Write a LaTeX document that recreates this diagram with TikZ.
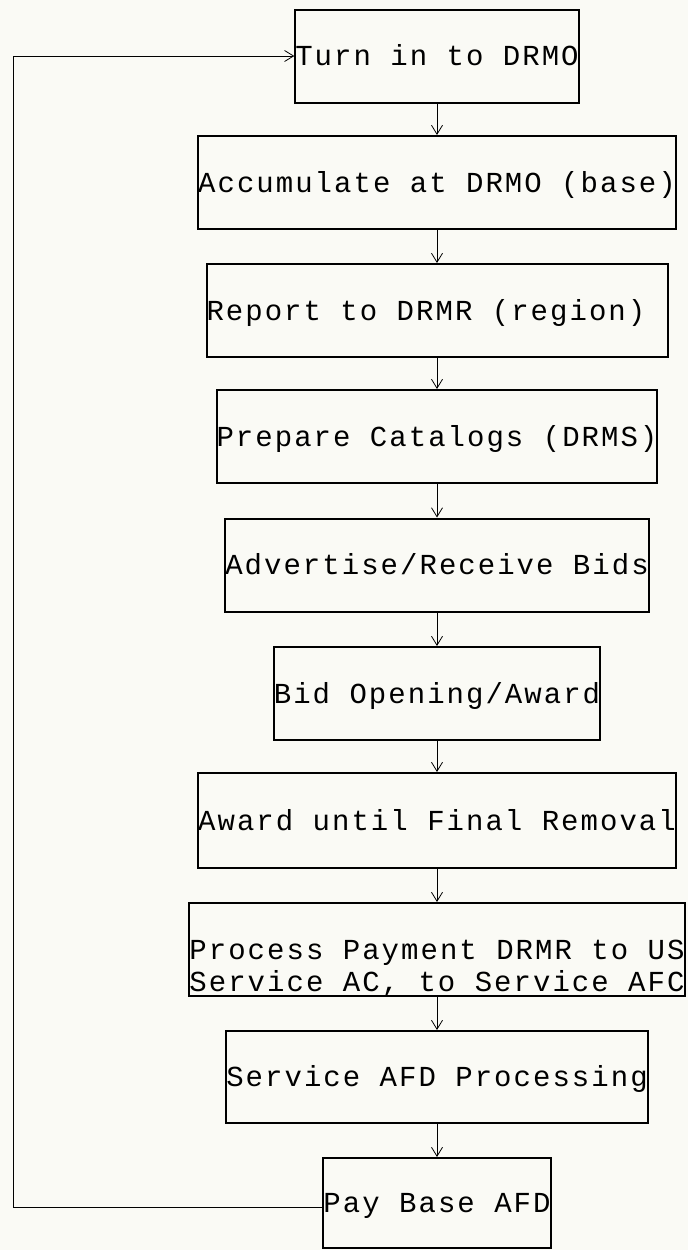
\documentclass[tikz,border=0pt]{standalone}
\usepackage{fontspec}
\setmainfont[LetterSpace=7]{Liberation Mono}
\usetikzlibrary{arrows.meta}
\definecolor{papier}{RGB}{250,250,245}
\tikzstyle{bloc} = [rectangle, draw=black, line width=2pt, inner sep=0pt, minimum height=93pt, text height=19pt, text depth=0pt, font=\fontsize{29}{32}\selectfont]
\tikzstyle{fleche} = [->, line width=0.8pt]

\begin{document}
\begin{tikzpicture}[x=1pt, y=-1pt, >={Straight Barb[length=9pt,width=11pt]}]
    \fill[papier] (0,0) rectangle (688,1250);
    \useasboundingbox (0,0) rectangle (688,1250);

    \node (turnin) [bloc] at (437,56) {Turn in to DRMO};
    \node (accumuler) [bloc] at (437,182.5) {Accumulate at DRMO (base)};
    \node (rapport) [bloc] at (437,310.5) {\makebox[461pt][l]{Report to DRMR (region)}};
    \node (catalogues) [bloc] at (437,436.5) {Prepare Catalogs (DRMS)};
    \node (annonce) [bloc] at (437,565) {Advertise/Receive Bids};
    \node (ouverture) [bloc] at (437,693.5) {Bid Opening/Award};
    \node (enlevement) [bloc, minimum height=95pt] at (437,820.5) {Award until Final Removal};
    \node (paiement) [bloc] at (437,949.5) {\begin{tabular}[t]{@{}c@{}}Process Payment DRMR to US\\
        Service AC, to Service AFC\end{tabular}};
    \node (traitement) [bloc, minimum height=92pt] at (437,1077) {Service AFD Processing};
    \node (paybase) [bloc, minimum height=90pt] at (437,1203) {Pay Base AFD};

    \draw[fleche] (turnin) -- (accumuler);
    \draw[fleche] (accumuler) -- (rapport);
    \draw[fleche] (rapport) -- (catalogues);
    \draw[fleche] (catalogues) -- (annonce);
    \draw[fleche] (annonce) -- (ouverture);
    \draw[fleche] (ouverture) -- (enlevement);
    \draw[fleche] (enlevement) -- (paiement);
    \draw[fleche] (paiement) -- (traitement);
    \draw[fleche] (traitement) -- (paybase);

    % retour vers le debut
    \coordinate (retour) at (13,1207);
    \draw[fleche] (paybase.west |- retour) -- (retour) |- (turnin.west);
\end{tikzpicture}
\end{document}
